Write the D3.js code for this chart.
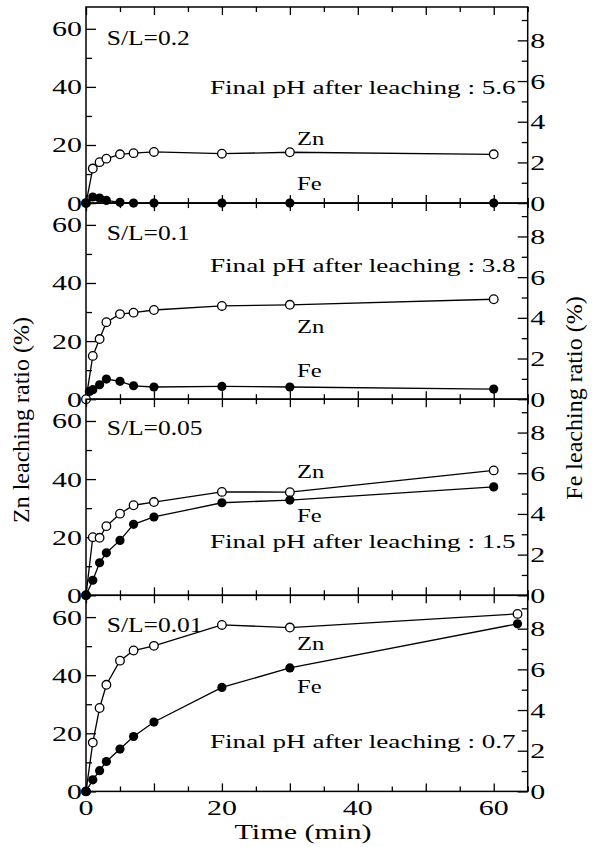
<!DOCTYPE html>
<html>
<head>
<meta charset="utf-8">
<script src="https://cdn.jsdelivr.net/npm/d3@7"></script>
<style>
  body { margin: 0; background: #fff; }
  text { font-family: "Liberation Serif", "Times New Roman", serif; fill: #000; }
</style>
</head>
<body>
<div id="chart"></div>
<script>
// ---- data ----
const panelNames = ["S/L=0.2", "S/L=0.1", "S/L=0.05", "S/L=0.01"];
const finalPH    = ["5.6", "3.8", "1.5", "0.7"];

const znTimes = [
  [0, 1, 2, 3, 5, 7, 10, 20, 30, 60],
  [0, 1, 2, 3, 5, 7, 10, 20, 30, 60],
  [0, 1, 2, 3, 5, 7, 10, 20, 30, 60],
  [0, 1, 2, 3, 5, 7, 10, 20, 30, 63.5]
];
const znValues = [
  [0, 11.9, 14.1, 15.3, 16.8, 17.2, 17.6, 17.0, 17.5, 16.8],
  [0, 14.9, 20.7, 26.5, 29.3, 29.8, 30.7, 32.1, 32.5, 34.4],
  [0, 20.0, 19.8, 23.8, 28.1, 31.0, 32.1, 35.6, 35.5, 43.0],
  [0, 16.8, 28.7, 36.7, 45.0, 48.5, 50.1, 57.3, 56.4, 61.1]
];
const feTimes = [
  [0, 1, 2, 3, 5, 7, 10, 20, 30, 60],
  [0.5, 1, 2, 3, 5, 7, 10, 20, 30, 60],
  [0, 1, 2, 3, 5, 7, 10, 20, 30, 60],
  [0, 1, 2, 3, 5, 7, 10, 20, 30, 63.5]
];
const feValues = [
  [0, 0.3, 0.25, 0.13, 0.04, 0, 0, 0, 0, 0],
  [0.38, 0.47, 0.71, 0.99, 0.88, 0.66, 0.6, 0.63, 0.6, 0.5],
  [0, 0.74, 1.6, 2.09, 2.7, 3.49, 3.85, 4.55, 4.68, 5.33],
  [0, 0.57, 1.02, 1.47, 2.08, 2.7, 3.41, 5.11, 6.07, 8.24]
];

const znTicks = [0, 20, 40, 60];
const feTicks = [0, 2, 4, 6, 8];
const timeTicks = [0, 20, 40, 60];

// ---- layout ----
const svg = d3.select("#chart").append("svg")
  .attr("width", 595)
  .attr("height", 847);

const x0 = 86, x1 = 527.7;
const panelTop = 7, panelH = 196.1;

// label baselines per panel (absolute y)
const labelY = [
  { sl: 45,    ph: 94.3,  zn: 145,   fe: 190 },
  { sl: 240,   ph: 271.7, zn: 333,   fe: 376.7 },
  { sl: 435,   ph: 548,   zn: 478,   fe: 521.7 },
  { sl: 631.7, ph: 748,   zn: 650,   fe: 693 }
];

const x = d3.scaleLinear().domain([0, 65]).range([x0, x1]);

// horizontally stretched text, like the original typesetting
function stext(parent, tx, ty, str, size, sx, anchor) {
  return parent.append("text")
    .attr("transform", `translate(${tx},${ty}) scale(${sx},1)`)
    .attr("font-size", size)
    .attr("text-anchor", anchor || "start")
    .text(str);
}

const line = d3.line();

panelNames.forEach((name, i) => {
  const top = panelTop + i * panelH;
  const bottom = top + panelH;
  const yZn = d3.scaleLinear().domain([0, 67.5]).range([bottom, top]);
  const yFe = d3.scaleLinear().domain([0, 9.64]).range([bottom, top]);
  const g = svg.append("g");

  // frame
  g.append("rect")
    .attr("x", x0).attr("y", top)
    .attr("width", x1 - x0).attr("height", panelH)
    .attr("fill", "none").attr("stroke", "#000").attr("stroke-width", 1.5);

  // left ticks (inward)
  const tickLine = (sel) => sel.selectAll(".domain").remove();
  g.append("g").attr("transform", `translate(${x0},0)`)
    .call(d3.axisRight(yZn).tickValues(znTicks).tickSize(10).tickFormat(""))
    .call(tickLine);
  g.append("g").attr("transform", `translate(${x0},0)`)
    .call(d3.axisRight(yZn).tickValues([10, 30, 50]).tickSize(6).tickFormat(""))
    .call(tickLine);

  // right ticks (inward)
  g.append("g").attr("transform", `translate(${x1},0)`)
    .call(d3.axisLeft(yFe).tickValues(feTicks).tickSize(10).tickFormat(""))
    .call(tickLine);
  g.append("g").attr("transform", `translate(${x1},0)`)
    .call(d3.axisLeft(yFe).tickValues([1, 3, 5, 7, 9]).tickSize(6).tickFormat(""))
    .call(tickLine);

  // time ticks on bottom (up) and top (down)
  const major = d3.range(0, 66, 10), minor = d3.range(5, 66, 10);
  [[major, 8], [minor, 5]].forEach(([vals, len]) => {
    g.append("g").attr("transform", `translate(0,${bottom})`)
      .call(d3.axisBottom(x).tickValues(vals).tickSize(-len).tickFormat(""))
      .call(tickLine);
    g.append("g").attr("transform", `translate(0,${top})`)
      .call(d3.axisTop(x).tickValues(vals).tickSize(-len).tickFormat(""))
      .call(tickLine);
  });
  g.selectAll(".tick line").attr("stroke", "#000").attr("stroke-width", 1.3);

  // tick labels
  znTicks.forEach(v => stext(g, x0 - 4, yZn(v) + 7.5, v, 22, 1.36, "end"));
  feTicks.forEach(v => stext(g, x1 + 2.5, yFe(v) + 7.5, v, 22, 1.36, "start"));

  // series
  const zn = znTimes[i].map((t, k) => [x(t), yZn(znValues[i][k])]);
  const fe = feTimes[i].map((t, k) => [x(t), yFe(feValues[i][k])]);

  g.append("path").attr("d", line(zn))
    .attr("fill", "none").attr("stroke", "#000").attr("stroke-width", 1.3);
  g.append("path").attr("d", line(fe))
    .attr("fill", "none").attr("stroke", "#000").attr("stroke-width", 1.3);

  g.selectAll("circle.zn").data(zn).join("circle")
    .attr("class", "zn")
    .attr("cx", d => d[0]).attr("cy", d => d[1]).attr("r", 4.3)
    .attr("fill", "#fff").attr("stroke", "#000").attr("stroke-width", 1.3);
  g.selectAll("circle.fe").data(fe).join("circle")
    .attr("class", "fe")
    .attr("cx", d => d[0]).attr("cy", d => d[1]).attr("r", 4.6)
    .attr("fill", "#000");

  // annotations
  const ly = labelY[i];
  stext(g, 106.7, ly.sl, name, 22, 1.16);
  stext(g, 210, ly.ph, "Final pH after leaching : " + finalPH[i], 19.5, 1.39);
  stext(g, 297, ly.zn, "Zn", 18, 1.37);
  stext(g, 297, ly.fe, "Fe", 18, 1.37);
});

// time axis labels
timeTicks.forEach(v => stext(svg, x(v), 815, v, 22, 1.36, "middle"));
stext(svg, 303, 839, "Time (min)", 22, 1.37, "middle");

// axis titles
svg.append("text")
  .attr("transform", "translate(29,420) rotate(-90)")
  .attr("font-size", 24).attr("text-anchor", "middle")
  .text("Zn leaching ratio (%)");
svg.append("text")
  .attr("transform", "translate(582,398) rotate(-90)")
  .attr("font-size", 24).attr("text-anchor", "middle")
  .text("Fe leaching ratio (%)");
</script>
</body>
</html>
